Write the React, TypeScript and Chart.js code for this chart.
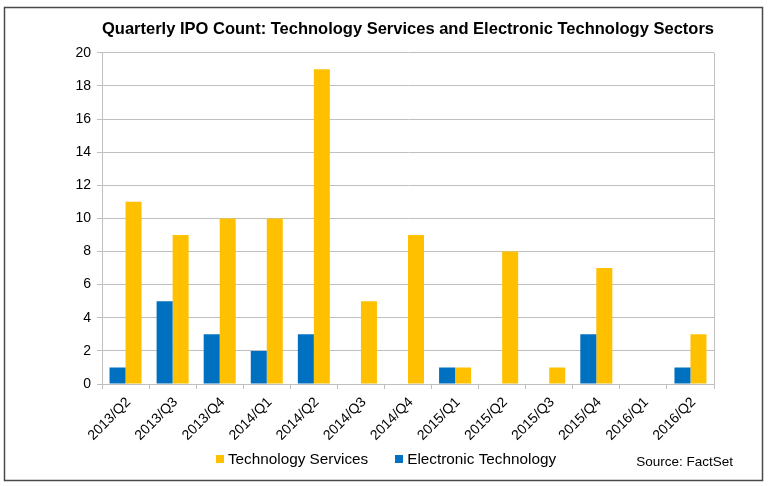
import React, { useEffect, useRef } from "react";
import { Chart, registerables } from "chart.js";

Chart.register(...registerables);

const quarters = [
  "2013/Q2", "2013/Q3", "2013/Q4", "2014/Q1", "2014/Q2", "2014/Q3", "2014/Q4",
  "2015/Q1", "2015/Q2", "2015/Q3", "2015/Q4", "2016/Q1", "2016/Q2",
];
const electronicTechnology = [1, 5, 3, 2, 3, 0, 0, 1, 0, 0, 3, 0, 1];
const technologyServices = [11, 9, 10, 10, 19, 5, 9, 1, 8, 1, 7, 0, 3];
const titleText = "Quarterly IPO Count: Technology Services and Electronic Technology Sectors";
const sourceText = "Source: FactSet";

const FONT = "'Liberation Sans', Arial, sans-serif";
const ORANGE = "#FFC000";
const BLUE = "#0070C0";
const GRID = "#BFBFBF";

const framePlugin = {
  id: "frame",
  afterDraw(chart: any) {
    const { ctx, chartArea } = chart;
    ctx.save();
    // plot area right border
    ctx.strokeStyle = GRID;
    ctx.lineWidth = 1;
    ctx.beginPath();
    ctx.moveTo(Math.round(chartArea.right) + 0.5, chartArea.top);
    ctx.lineTo(Math.round(chartArea.right) + 0.5, chartArea.bottom);
    ctx.stroke();
    // outer border
    ctx.strokeStyle = "#4a4a4a";
    ctx.lineWidth = 1.5;
    ctx.strokeRect(4.5, 7.5, 758, 473);

    // legend (Technology Services first)
    ctx.font = `15.3px ${FONT}`;
    ctx.textBaseline = "middle";
    ctx.textAlign = "left";
    const items = [chart.data.datasets[1], chart.data.datasets[0]];
    const box = 8;
    const gapBoxText = 4;
    const gapItems = 27;
    const widths = items.map((d: any) => box + gapBoxText + ctx.measureText(d.label).width);
    const total = widths.reduce((a: number, b: number) => a + b, 0) + gapItems;
    let x = 386 - total / 2;
    const y = 459;
    items.forEach((d: any, i: number) => {
      ctx.fillStyle = d.backgroundColor;
      ctx.fillRect(Math.round(x), y - box / 2, box, box);
      ctx.fillStyle = "#000";
      ctx.fillText(d.label, x + box + gapBoxText, y + 1);
      x += widths[i] + gapItems;
    });

    // source
    ctx.font = `13.5px ${FONT}`;
    ctx.textAlign = "right";
    ctx.fillText(sourceText, 733, 462);
    ctx.restore();
  },
};

export default function App() {
  const ref = useRef<HTMLCanvasElement>(null);
  useEffect(() => {
    if (!ref.current) return;
    const chart = new Chart(ref.current, {
      type: "bar",
      data: {
        labels: quarters,
        datasets: [
          {
            label: "Electronic Technology",
            data: electronicTechnology,
            backgroundColor: BLUE,
            categoryPercentage: 0.68,
            barPercentage: 1.0,
          },
          {
            label: "Technology Services",
            data: technologyServices,
            backgroundColor: ORANGE,
            categoryPercentage: 0.68,
            barPercentage: 1.0,
          },
        ],
      },
      options: {
        responsive: false,
        animation: false,
        layout: { padding: { left: 0, right: 54, top: 0, bottom: 40 } },
        plugins: {
          legend: { display: false },
          tooltip: { enabled: false },
          title: {
            display: true,
            text: titleText,
            fullSize: false,
            color: "#000",
            font: { family: FONT, size: 17.3, weight: "bold" },
            padding: { top: 19, bottom: 13 },
          },
        },
        scales: {
          x: {
            grid: {
              offset: true,
              drawOnChartArea: false,
              drawTicks: true,
              tickLength: 5,
              color: GRID,
            },
            border: { color: GRID },
            ticks: {
              color: "#000",
              font: { family: FONT, size: 14 },
              minRotation: 45,
              maxRotation: 45,
              padding: 5,
              labelOffset: 3,
              autoSkip: false,
            },
            afterFit(scale: any) {
              scale.height = 62;
            },
          },
          y: {
            min: 0,
            max: 20,
            ticks: {
              stepSize: 2,
              color: "#000",
              font: { family: FONT, size: 14 },
              padding: 6,
            },
            grid: { color: GRID, tickLength: 5 },
            border: { color: GRID },
            afterFit(scale: any) {
              scale.width = 102;
            },
          },
        },
      },
      plugins: [framePlugin],
    });
    return () => chart.destroy();
  }, []);
  return (
    <div style={{ position: "fixed", left: 0, top: 0, width: 768, height: 486, background: "#fff" }}>
      <canvas ref={ref} width={768} height={486} />
    </div>
  );
}
